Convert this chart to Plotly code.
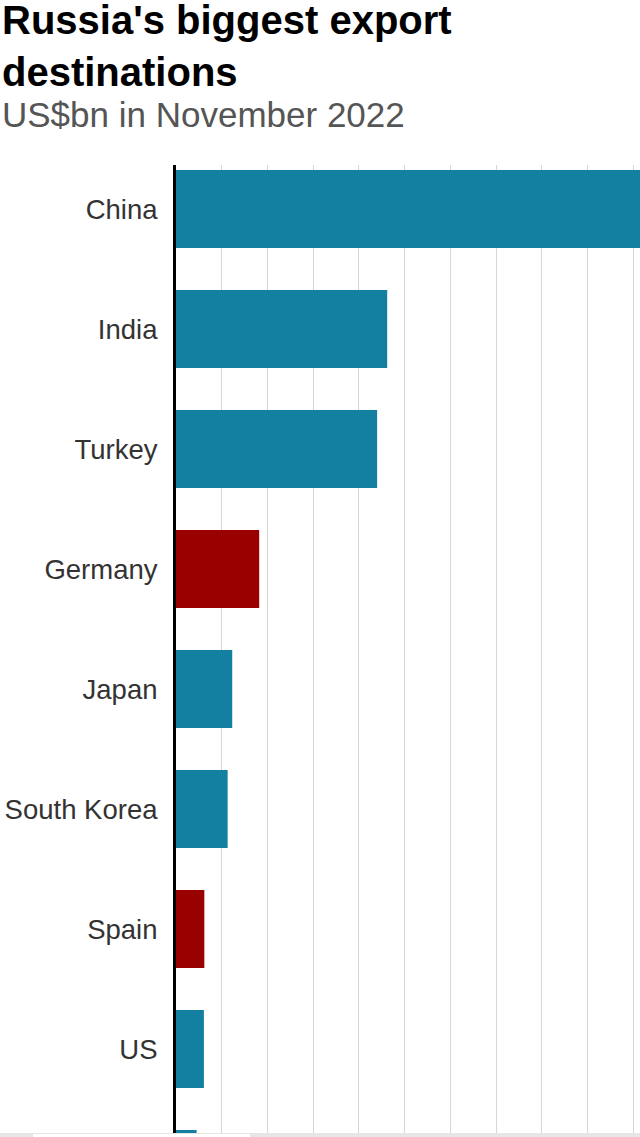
import plotly.graph_objects as go

countries = ["China", "India", "Turkey", "Germany", "Japan", "South Korea", "Spain", "US", "Kazakhstan"]
values = [10.6, 4.62, 4.40, 1.82, 1.23, 1.13, 0.62, 0.61, 0.45]
eu_member = [False, False, False, True, False, False, True, False, False]

BLUE = "#1380A1"
RED = "#990000"
colors = [RED if e else BLUE for e in eu_member]

W, H = 640, 1137
L, T = 176, 165
plot_h = H - T
plot_w = W - L

def py(Y):  # window pixel Y -> paper y
    return (H - Y) / plot_h

def px(X):  # window pixel X -> paper x
    return (X - L) / plot_w

fig = go.Figure(go.Bar(
    x=values, y=countries, orientation="h",
    marker=dict(color=colors, line=dict(width=0)),
    width=0.65, hoverinfo="skip",
))

fig.update_layout(
    width=W, height=H,
    margin=dict(l=L, r=0, t=T, b=0, pad=0, autoexpand=False),
    paper_bgcolor="white", plot_bgcolor="white",
    showlegend=False,
    font=dict(family="Liberation Sans, Arial, sans-serif", color="#333333"),
    xaxis=dict(range=[0, 10.15], dtick=1, tick0=0, showgrid=True, gridcolor="#d6d6d6",
               gridwidth=1, zeroline=False, showticklabels=False, ticks="", showline=False,
               automargin=False),
    yaxis=dict(type="category", categoryorder="array", categoryarray=countries,
               range=[7.733, -0.367], showgrid=False, zeroline=False,
               showline=True, linecolor="black", linewidth=3,
               ticks="", ticklabelstandoff=10, automargin=False,
               tickfont=dict(size=27.5, color="#333333")),
    annotations=[
        dict(text="<b>Russia's biggest export<br>destinations</b>", xref="paper", yref="paper",
             x=px(0), y=py(-4), xanchor="left", yanchor="top", showarrow=False, align="left",
             font=dict(size=40, color="#000000")),
        dict(text="US$bn in November 2022", xref="paper", yref="paper",
             x=px(0), y=py(93), xanchor="left", yanchor="top", showarrow=False, align="left",
             font=dict(size=35, color="#555555")),
    ],
    shapes=[
        dict(type="rect", xref="paper", yref="paper", x0=px(0), x1=px(640), y0=py(1137), y1=py(1133),
             fillcolor="#e6e6e6", line=dict(width=0), layer="above"),
        dict(type="rect", xref="paper", yref="paper", x0=px(33), x1=px(250), y0=py(1137), y1=py(1134),
             fillcolor="#ffffff", line=dict(width=0), layer="above"),
    ],
)

fig.write_html(
    "out.html",
    config={"displayModeBar": False},
    post_script="document.body.style.margin='0px';document.body.style.overflow='hidden';",
)
